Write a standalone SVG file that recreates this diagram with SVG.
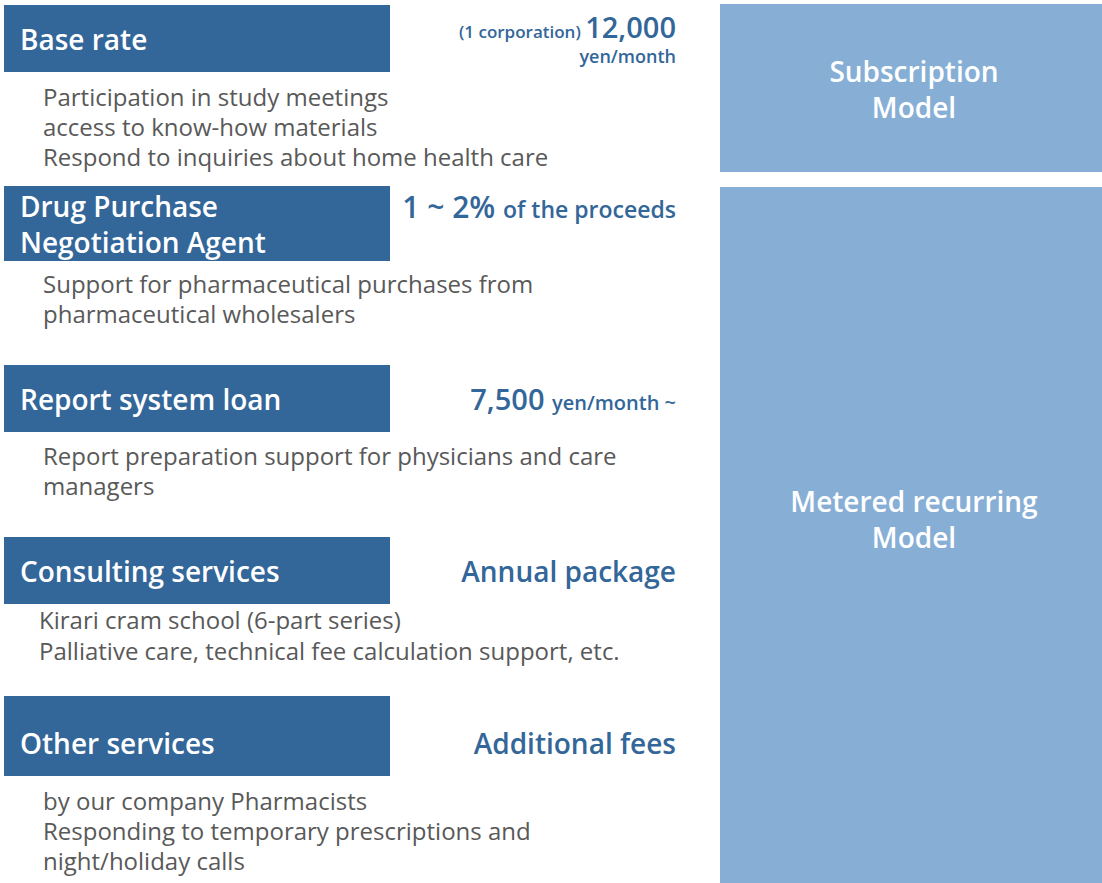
<svg xmlns="http://www.w3.org/2000/svg" width="1102" height="883" viewBox="0 0 1102 883">
<style>
.hdr{fill:#336699}
.model{fill:#87AFD6}
.ht{font-family:"Open Sans","Noto Sans",sans-serif;font-size:28px;fill:#ffffff;font-weight:600}
.mt{font-family:"Open Sans","Noto Sans",sans-serif;font-size:28px;fill:#ffffff;font-weight:600;text-anchor:middle}
.body{font-family:"Open Sans","Noto Sans",sans-serif;font-size:24px;fill:#595959}
.pr{font-family:"Open Sans","Noto Sans",sans-serif;fill:#336699;font-weight:600;text-anchor:end}
</style>
<rect width="1102" height="883" fill="#ffffff"/>
<g id="base-rate">
<rect class="hdr" x="4" y="5" width="386" height="67"/>
<text class="ht" x="20" y="50">Base rate</text>
<text class="pr" x="676" y="38"><tspan font-size="17">(1 corporation) </tspan><tspan font-size="29">12,000</tspan></text>
<text class="pr" x="676" y="63" font-size="18">yen/month</text>
<text class="body" x="43" y="106">Participation in study meetings</text>
<text class="body" x="43" y="136">access to know-how materials</text>
<text class="body" x="43" y="166">Respond to inquiries about home health care</text>
</g>
<g id="drug-purchase">
<rect class="hdr" x="4" y="186" width="386" height="75"/>
<text class="ht" x="20" y="217">Drug Purchase</text>
<text class="ht" x="20" y="253">Negotiation Agent</text>
<text class="pr" x="676" y="218"><tspan font-size="30">1 ~ 2% </tspan><tspan font-size="23">of the proceeds</tspan></text>
<text class="body" x="43" y="293">Support for pharmaceutical purchases from</text>
<text class="body" x="43" y="323">pharmaceutical wholesalers</text>
</g>
<g id="report-system">
<rect class="hdr" x="4" y="365" width="386" height="67"/>
<text class="ht" x="20" y="410">Report system loan</text>
<text class="pr" x="676" y="410"><tspan font-size="29">7,500 </tspan><tspan font-size="20">yen/month ~</tspan></text>
<text class="body" x="43" y="465">Report preparation support for physicians and care</text>
<text class="body" x="43" y="495">managers</text>
</g>
<g id="consulting">
<rect class="hdr" x="4" y="537" width="386" height="67"/>
<text class="ht" x="20" y="582">Consulting services</text>
<text class="pr" x="676" y="582" font-size="28">Annual package</text>
<text class="body" x="39" y="629">Kirari cram school (6-part series)</text>
<text class="body" x="39" y="660">Palliative care, technical fee calculation support, etc.</text>
</g>
<g id="other">
<rect class="hdr" x="4" y="696" width="386" height="80"/>
<text class="ht" x="20" y="754">Other services</text>
<text class="pr" x="676" y="754" font-size="28">Additional fees</text>
<text class="body" x="43" y="810">by our company Pharmacists</text>
<text class="body" x="43" y="840">Responding to temporary prescriptions and</text>
<text class="body" x="43" y="870">night/holiday calls</text>
</g>
<g id="subscription-model">
<rect class="model" x="720" y="4" width="382" height="168"/>
<text class="mt" x="914" y="82">Subscription</text>
<text class="mt" x="914" y="118">Model</text>
</g>
<g id="metered-model">
<rect class="model" x="720" y="187" width="382" height="696"/>
<text class="mt" x="914" y="512">Metered recurring</text>
<text class="mt" x="914" y="548">Model</text>
</g>
<g id="connectors"></g>
</svg>
